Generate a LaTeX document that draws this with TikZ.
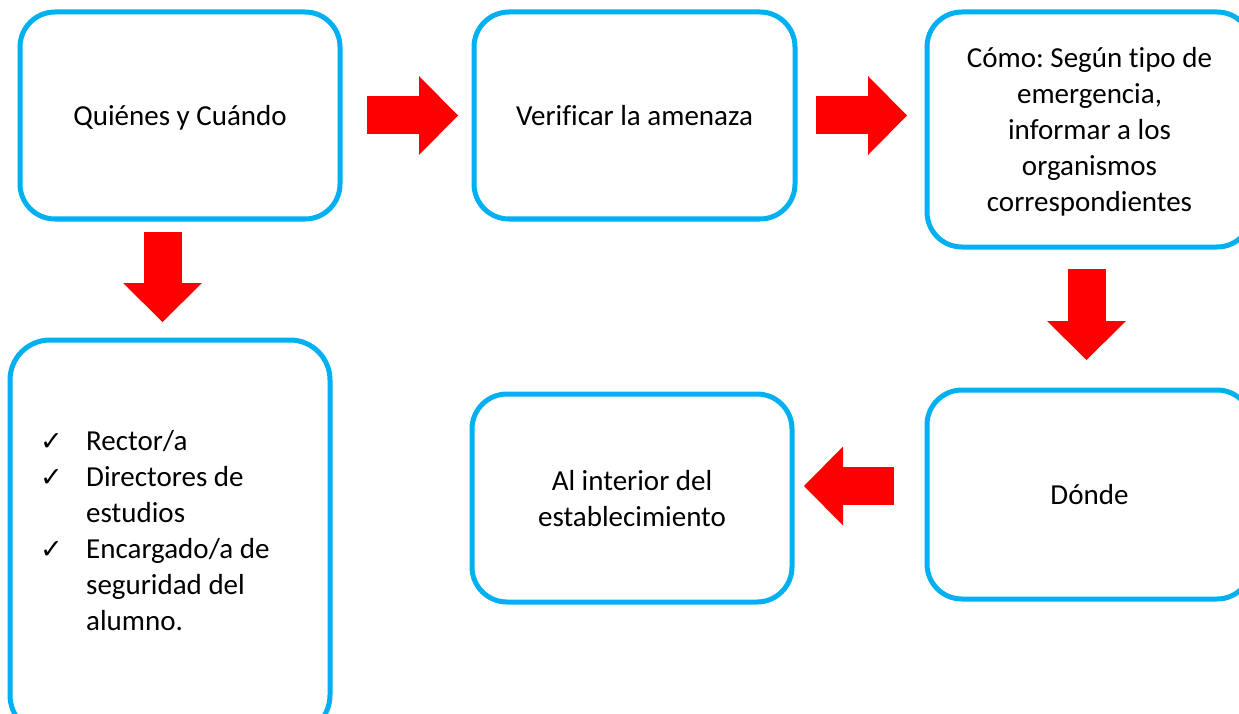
\documentclass[tikz,border=0pt]{standalone}
\usepackage{fontspec}
\setmainfont{Carlito}[Ligatures=NoCommon]
\newfontfamily\checkfont{DejaVu Sans}
\usetikzlibrary{arrows.meta,positioning}
\definecolor{boxblue}{HTML}{00B0F0}
\newcommand{\boxfont}{\frenchspacing\fontsize{29pt}{36pt}\selectfont}
\newcommand{\tick}{\makebox[46pt][l]{\checkfont\fontsize{27pt}{36pt}\selectfont ✓}}

\tikzset{
  flowbox/.style={draw=boxblue, line width=5pt, rounded corners=35pt, inner sep=0pt,
    outer sep=0pt, align=center, font=\boxfont},
  fatarrow/.style={draw=red, line width=38pt,
    -{Triangle[length=39pt, width=79pt, line width=0pt]}}
}

\begin{document}
\begin{tikzpicture}[x=1pt,y=-1pt]
\useasboundingbox (0,0) rectangle (1239,714);

% boxes
\node[flowbox, text depth=-3pt, minimum width=320pt, minimum height=207pt] (quienes) at (180,115.5) {Quiénes y Cuándo};
\node[flowbox, text depth=-3pt, minimum width=321pt, minimum height=207pt] (verificar) at (634.5,115.5) {Verificar la amenaza};
\node[flowbox, text depth=0pt, minimum width=325pt, minimum height=235pt] (como) at (1089.5,129.5)
  {Cómo: Según tipo de\\emergencia,\\informar a los\\organismos\\correspondientes};
\node[flowbox, minimum width=325pt, minimum height=209pt] (donde) at (1089.5,494.5) {Dónde};
\node[flowbox, text depth=-6pt, minimum width=320pt, minimum height=208pt] (interior) at (632,498)
  {\fontsize{29pt}{34pt}\selectfont Al interior del\\establecimiento};
\node[flowbox, rounded corners=40pt, minimum width=320pt, minimum height=395pt] (lista) at (170,537.5) {};
\node[font=\boxfont, align=left, inner sep=0pt, anchor=west] (personas) at (40,531)
  {\tick Rector/a\\
   \tick Directores de\\
   \hspace*{46pt}estudios\\
   \tick Encargado/a de\\
   \hspace*{46pt}seguridad del\\
   \hspace*{46pt}alumno.};

% block arrows
\draw[fatarrow] ([shift={(27,0)}]quienes.east) -- ([shift={(-16,0)}]verificar.west);
\draw[fatarrow] ([shift={(21,0)}]verificar.east) -- ([shift={(-20,-14)}]como.west);
\draw[fatarrow] ([shift={(-17.5,13)}]quienes.south) -- ([shift={(-7.5,-18)}]lista.north);
\draw[fatarrow] ([shift={(-3,22)}]como.south) -- ([shift={(-3,-30)}]donde.north);
\draw[fatarrow] ([shift={(-33,-8.5)}]donde.west) -- ([shift={(12,-12)}]interior.east);
\end{tikzpicture}
\end{document}
